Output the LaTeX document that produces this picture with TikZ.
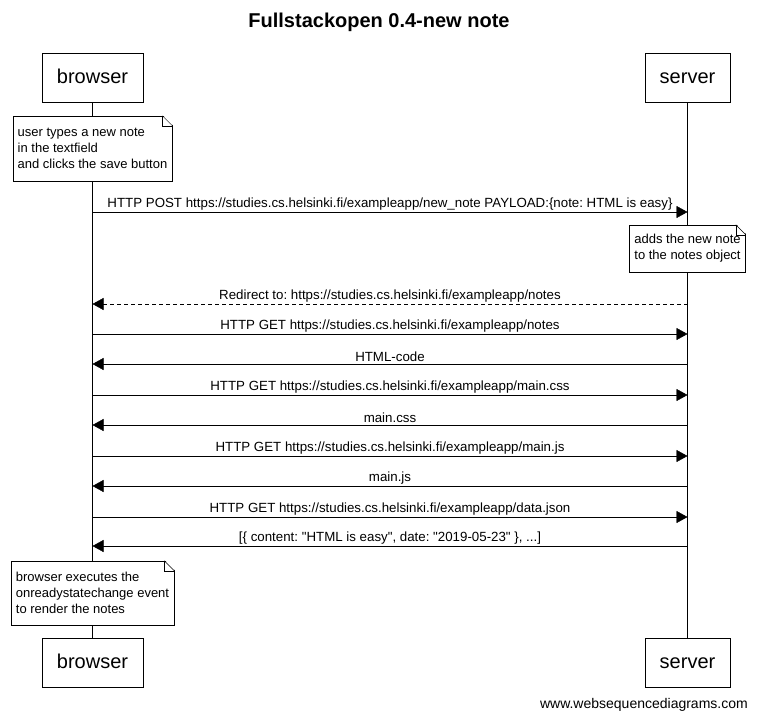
\documentclass[tikz,border=0pt]{standalone}
\usepackage{fontspec}
\setmainfont{Liberation Sans}
\usetikzlibrary{arrows.meta, calc, positioning}
\frenchspacing

\begin{document}
\begin{tikzpicture}[x=1pt, y=-1pt, font=\fontsize{13.3}{16}\selectfont]
	\tikzset	{
		actor/.style={draw, fill=white, inner xsep=15pt, minimum height=49pt, text height=15pt, text depth=4pt, font=\fontsize{20}{24}\selectfont},
		note/.style={draw, fill=white, align=left, inner xsep=5pt, inner ysep=9pt, font=\fontsize{13}{16}\selectfont},
		msg/.style={-{Triangle[length=11pt, width=12pt]}},
		reply/.style={msg, dash pattern=on 4pt off 3pt},
		lbl/.style={above, inner sep=2pt, midway},
	}
	\tikzset	{
		fold/.pic={
			code={
				\fill[white]	(-10,-1) -- (1,-1) -- (1,10) -- cycle;
				\draw[]		(-10,0) -- (0,10);
				\draw[]		(-10,0) -- (-10,10) -- (0,10);
			}
		},
	}
	\def\xb{92.5}
	\def\xs{687.5}
	\useasboundingbox (0,0) rectangle (757,721);

	\node[font=\bfseries\fontsize{20}{24}\selectfont] (title) at (379,22) {Fullstackopen 0.4-new note};

	% participants
	\node[actor] (browser) at (\xb,77.5) {browser};
	\node[actor] (server) at (\xs,77.5) {server};
	\node[actor] (browser2) at (\xb,662.5) {browser};
	\node[actor] (server2) at (\xs,662.5) {server};

	\draw[] (browser) -- (browser2);
	\draw[] (server) -- (server2);

	% message rows
	\foreach \i/\y in {1/212, 2/304, 3/334, 4/364, 5/395, 6/425, 7/456, 8/486, 9/517, 10/546} {
		\coordinate (b\i) at (\xb,\y);
		\coordinate (s\i) at (\xs,\y);
	}

	% notes
	\node[note, minimum height=65pt] (n1) at (\xb,148.5) {user types a new note\\in the textfield\\and clicks the save button};
	\pic[] at (n1.north east) {fold};
	\node[note, minimum height=47pt] (n2) at (\xs,248.5) {adds the new note\\to the notes object};
	\pic[] at (n2.north east) {fold};
	\node[note, minimum height=64pt] (n3) at (\xb,593) {browser executes the\\onreadystatechange event\\to render the notes};
	\pic[] at (n3.north east) {fold};

	\draw[msg]	(b1) -- node[lbl] {HTTP POST https://studies.cs.helsinki.fi/exampleapp/new\_note PAYLOAD:\{note: HTML is easy\}} (s1);
	\draw[reply]	(s2) -- node[lbl] {Redirect to: https://studies.cs.helsinki.fi/exampleapp/notes} (b2);
	\draw[msg]	(b3) -- node[lbl] {HTTP GET https://studies.cs.helsinki.fi/exampleapp/notes} (s3);
	\draw[msg]	(s4) -- node[lbl] {HTML-code} (b4);
	\draw[msg]	(b5) -- node[lbl] {HTTP GET https://studies.cs.helsinki.fi/exampleapp/main.css} (s5);
	\draw[msg]	(s6) -- node[lbl] {main.css} (b6);
	\draw[msg]	(b7) -- node[lbl] {HTTP GET https://studies.cs.helsinki.fi/exampleapp/main.js} (s7);
	\draw[msg]	(s8) -- node[lbl] {main.js} (b8);
	\draw[msg]	(b9) -- node[lbl] {HTTP GET https://studies.cs.helsinki.fi/exampleapp/data.json} (s9);
	\draw[msg]	(s10) -- node[lbl] {[\{ content: \textquotedbl HTML is easy\textquotedbl, date: \textquotedbl 2019-05-23\textquotedbl\ \}, ...]} (b10);

	\node[anchor=east, inner sep=0pt, font=\fontsize{14}{17}\selectfont] (wsd) at (748,705) {www.websequencediagrams.com};
\end{tikzpicture}
\end{document}
